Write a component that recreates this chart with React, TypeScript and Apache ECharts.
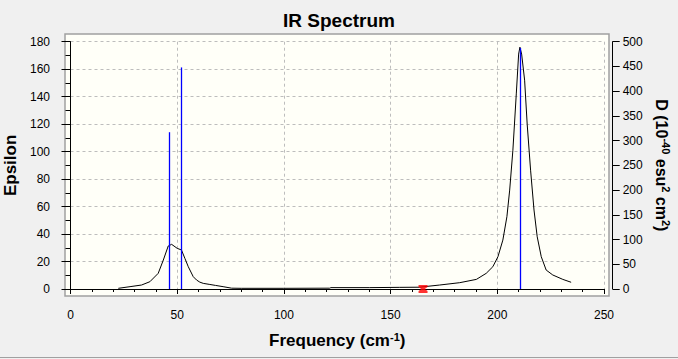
import React, { useEffect, useRef } from "react";
import * as echarts from "echarts";

const curveFreq = [22.4, 27.9, 33.3, 37.2, 41.1, 43.5, 45.8, 47.4, 50, 52, 53.6, 55.2, 57.5, 59.1, 60.6, 62.2, 65.3, 68, 71.5, 75.5, 80, 100, 121.5, 122, 140, 154.3, 163.6, 165.2, 173, 182.4, 190.2, 194.8, 197.9, 200.3, 202.6, 204.5, 205.8, 207.3, 208.9, 210, 210.6, 211.4, 212.8, 214, 215.6, 217.2, 218.7, 220.6, 222.9, 226, 230.7, 234.6];
const curveEps = [0.5, 1.7, 2.9, 5.3, 11.4, 21.1, 31.3, 32.5, 29.6, 28.4, 22.3, 16.2, 9, 6.5, 5, 4.1, 3.3, 2.6, 1.7, 0.6, 0.5, 0.5, 0.6, 1, 1, 1.2, 1.3, 1.6, 2.9, 4.6, 7, 11.4, 16.2, 23.5, 35.6, 52.6, 72, 101, 142, 171, 176, 171, 152, 120, 86.5, 57.5, 38, 23.5, 13.8, 10.2, 7, 4.9];

const stickFreq = [46.3, 51.9, 210.6];
const stickD = [317, 448, 487];

const markerFreq = [165.2];
const markerEps = [0];

const xTicks = { min: 0, max: 250, interval: 50 };
const epsTicks = { min: 0, max: 180, interval: 20 };
const dTicks = { min: 0, max: 500, interval: 50 };

const FONT = "'Liberation Sans', Arial, sans-serif";

export default function App() {
  const ref = useRef<HTMLDivElement>(null);
  useEffect(() => {
    const chart = echarts.init(ref.current!, null, { renderer: "svg" });
    const axisCommon = {
      axisLine: { show: true, lineStyle: { color: "#000", width: 1 } },
      axisLabel: { color: "#000", fontSize: 12, fontFamily: FONT },
    };
    chart.setOption({
      animation: false,
      backgroundColor: "#f0f0f0",
      title: {
        text: "IR Spectrum",
        left: "center",
        top: 6,
        textStyle: { fontSize: 19, fontWeight: "bold", color: "#000", fontFamily: FONT },
      },
      grid: { left: 70.5, right: 74, top: 41.7, bottom: 70, containLabel: false, outerBoundsMode: "none" },
      graphic: [
        {
          type: "rect",
          z: -10,
          shape: { x: 65, y: 34, width: 544, height: 262 },
          style: { fill: "#fffff8", stroke: "#a0a0a0", lineWidth: 1.5 },
          silent: true,
        },
        {
          type: "line",
          shape: { x1: 0, y1: 357.5, x2: 678, y2: 357.5 },
          style: { stroke: "#a0a0a0", lineWidth: 1 },
          silent: true,
        },
      ],
      xAxis: {
        type: "value",
        ...xTicks,
        offset: 10,
        ...axisCommon,
        axisLabel: { ...axisCommon.axisLabel, margin: 10 },
        axisTick: { show: true, length: 5, lineStyle: { color: "#000" } },
        minorTick: { show: true, splitNumber: 5, length: 3, lineStyle: { color: "#000" } },
        splitLine: { show: true, lineStyle: { color: "#bdbdbd", type: [3, 3] } },
        name: "Frequency (cm{sup|-1})",
        nameLocation: "middle",
        nameGap: 32,
        nameTextStyle: {
          fontSize: 17,
          fontWeight: "bold",
          color: "#000",
          fontFamily: FONT,
          rich: { sup: { fontSize: 11, fontWeight: "bold", verticalAlign: "top", padding: [0, 0, 8, 0], fontFamily: FONT } },
        },
      },
      yAxis: [
        {
          type: "value",
          ...epsTicks,
          position: "left",
          offset: 8.5,
          ...axisCommon,
          axisLabel: { ...axisCommon.axisLabel, margin: 12 },
          axisTick: { show: true, length: 9, lineStyle: { color: "#000" } },
          minorTick: { show: true, splitNumber: 2, length: 5, lineStyle: { color: "#000" } },
          splitLine: { show: true, lineStyle: { color: "#bdbdbd", type: [3, 3] } },
          name: "Epsilon",
          nameLocation: "middle",
          nameGap: 34,
          nameRotate: 90,
          nameTextStyle: { fontSize: 17, fontWeight: "bold", color: "#000", fontFamily: FONT },
        },
        {
          type: "value",
          ...dTicks,
          position: "right",
          offset: 8.7,
          ...axisCommon,
          axisLabel: { ...axisCommon.axisLabel, margin: 10 },
          axisTick: { show: true, length: 7, lineStyle: { color: "#000" } },
          splitLine: { show: false },
          name: "D (10{sup|-40} esu{sup|2} cm{sup|2})",
          nameLocation: "middle",
          nameGap: 37,
          nameRotate: -90,
          nameTextStyle: {
            fontSize: 16,
            fontWeight: "bold",
            color: "#000",
            fontFamily: FONT,
            rich: { sup: { fontSize: 11, fontWeight: "bold", verticalAlign: "top", padding: [0, 0, 8, 0], fontFamily: FONT } },
          },
        },
      ],
      series: [
        {
          type: "line",
          yAxisIndex: 0,
          data: curveFreq.map((f, i) => [f, curveEps[i]]),
          showSymbol: false,
          symbol: "none",
          lineStyle: { color: "#000", width: 1 },
          z: 3,
        },
        {
          type: "custom",
          yAxisIndex: 1,
          data: stickFreq.map((f, i) => [f, stickD[i]]),
          renderItem: (params: any, api: any) => {
            const top = api.coord([api.value(0), api.value(1)]);
            const bottom = api.coord([api.value(0), 0]);
            return {
              type: "line",
              shape: { x1: Math.round(top[0]) + 0.5, y1: top[1], x2: Math.round(bottom[0]) + 0.5, y2: bottom[1] },
              style: { stroke: "#0000ff", lineWidth: 1.3 },
            };
          },
          z: 4,
        },
        {
          type: "scatter",
          yAxisIndex: 0,
          data: markerFreq.map((f, i) => [f, markerEps[i]]),
          symbol: "path://M0,0 L10,0 L10,2 L7,4 L10,6 L10,8 L0,8 L0,6 L3,4 L0,2 Z",
          symbolSize: [9, 8],
          itemStyle: { color: "#ff0000" },
          z: 5,
        },
      ],
    });
    return () => chart.dispose();
  }, []);
  return <div ref={ref} style={{ position: "fixed", left: 0, top: 0, width: 678, height: 359 }} />;
}
